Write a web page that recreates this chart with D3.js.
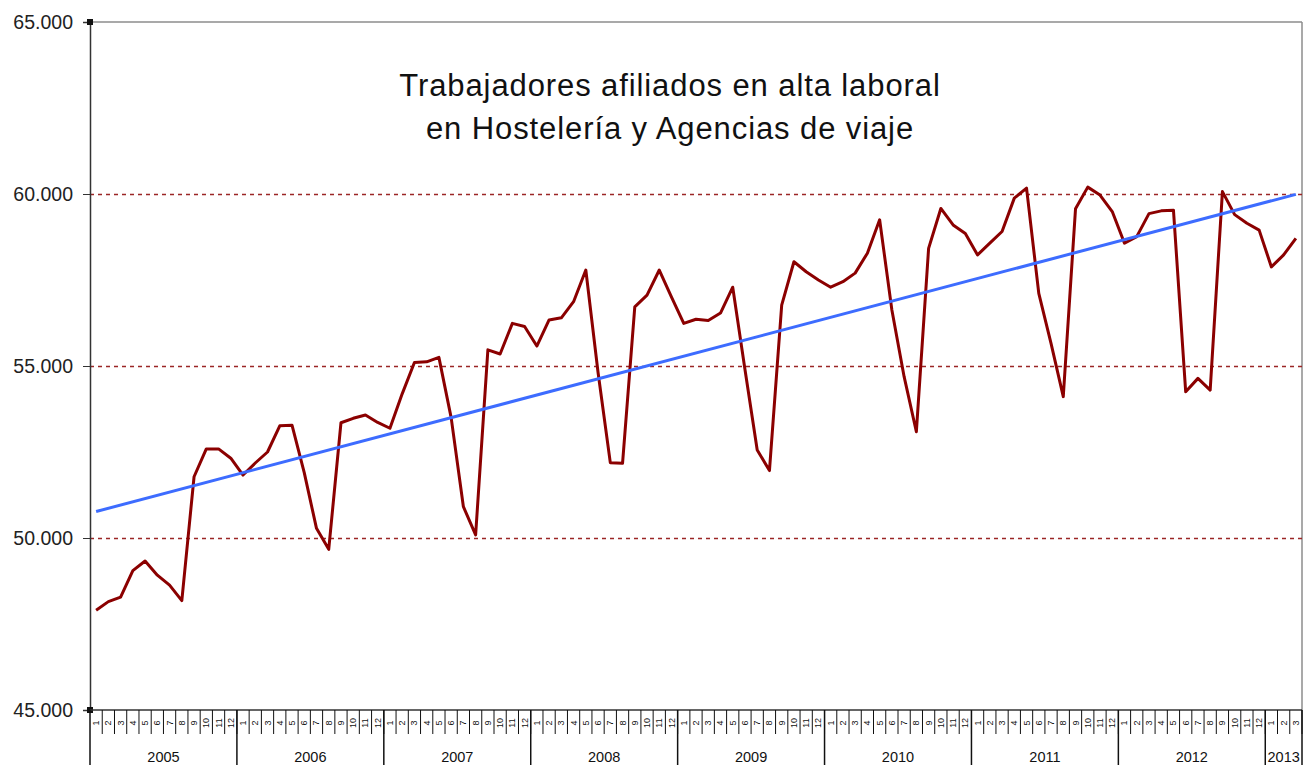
<!DOCTYPE html>
<html>
<head>
<meta charset="utf-8">
<script src="https://cdn.jsdelivr.net/npm/d3@7"></script>
<style>
  body { margin: 0; background: #fff; }
  svg { display: block; font-family: "Liberation Sans", Arial, sans-serif; }
</style>
</head>
<body>
<div id="chart"></div>
<script>
// years on the axis and how many months each one has
var years = ["2005", "2006", "2007", "2008", "2009", "2010", "2011", "2012", "2013"];
var monthsInYear = [12, 12, 12, 12, 12, 12, 12, 12, 3];
var monthLabels = ["1", "2", "3", "4", "5", "6", "7", "8", "9", "10", "11", "12"];

// afiliados, one value per month (Jan 2005 .. Mar 2013)
var afiliados = [
    47900, 48150, 48280, 49050, 49330, 48920, 48630, 48180, 51780, 52590, 52590, 52320,
    51830, 52180, 52500, 53260, 53280, 51900, 50280, 49670, 53350, 53480, 53575, 53360,
    53190, 54190, 55100, 55120, 55250, 53500, 50910, 50090, 55470, 55350, 56240, 56150,
    55580, 56340, 56400, 56870, 57790, 54810, 52190, 52170, 56720, 57060, 57790, 57000,
    56240, 56360, 56320, 56540, 57290, 54900, 52560, 51960, 56770, 58030, 57740, 57500,
    57290, 57450, 57700, 58280, 59250, 56630, 54690, 53090, 58420, 59580, 59100, 58850,
    58230, 58570, 58910, 59880, 60170, 57110, 55660, 54110, 59570, 60200, 59970, 59490,
    58570, 58760, 59430, 59510, 59530, 54250, 54640, 54300, 60070, 59400, 59150, 58950,
    57880, 58230, 58710
];

// linear trend line, value at first and last month
var trendEnds = [50770, 59990];

var yTicks = [45000, 50000, 55000, 60000, 65000];
var gridValues = [50000, 55000, 60000];
var titleLines = ["Trabajadores afiliados en alta laboral", "en Hostelería y Agencias de viaje"];

// build the month categories
var categories = [];
years.forEach(function (yr, i) {
    for (var m = 0; m < monthsInYear[i]; m++) {
        categories.push({ key: yr + "-" + (m + 1), year: yr, month: monthLabels[m] });
    }
});

var width = 1312, height = 765;
var margin = { top: 22, right: 10, bottom: 55, left: 90 };

var svg = d3.select("#chart").append("svg")
    .attr("width", width)
    .attr("height", height);

var x = d3.scaleBand()
    .domain(categories.map(function (d) { return d.key; }))
    .range([margin.left, width - margin.right])
    .padding(0);

var y = d3.scaleLinear()
    .domain([45000, 65000])
    .range([height - margin.bottom, margin.top]);

var esLocale = d3.formatLocale({ decimal: ",", thousands: ".", grouping: [3], currency: ["", " €"] });
var fmt = esLocale.format(",.0f");

var plotRight = width - margin.right;
var plotBottom = height - margin.bottom;

// plot border (top and right)
svg.append("line")
    .attr("x1", margin.left).attr("x2", plotRight)
    .attr("y1", margin.top).attr("y2", margin.top)
    .attr("stroke", "#8c8c8c").attr("stroke-width", 1.5);
svg.append("line")
    .attr("x1", plotRight).attr("x2", plotRight)
    .attr("y1", margin.top).attr("y2", plotBottom)
    .attr("stroke", "#8c8c8c").attr("stroke-width", 1.5);

// dashed gridlines
svg.selectAll(".grid")
    .data(gridValues)
    .enter().append("line")
    .attr("class", "grid")
    .attr("x1", margin.left).attr("x2", plotRight)
    .attr("y1", function (d) { return Math.round(y(d)) + 0.5; })
    .attr("y2", function (d) { return Math.round(y(d)) + 0.5; })
    .attr("stroke", "#9b2626")
    .attr("stroke-width", 1.6)
    .attr("stroke-dasharray", "4,4");

// y axis
var yAxis = svg.append("g")
    .attr("transform", "translate(" + margin.left + ",0)")
    .call(d3.axisLeft(y).tickValues(yTicks).tickFormat(fmt).tickSize(7).tickPadding(10));
yAxis.select(".domain").attr("stroke", "#333").attr("stroke-width", 1.5);
yAxis.selectAll(".tick line").attr("stroke", "#333");
yAxis.selectAll(".tick text")
    .attr("font-size", "19.5px")
    .attr("fill", "#222")
    .attr("font-family", "'Liberation Sans', Arial, sans-serif");

// little markers at the ends of the value axis
svg.selectAll(".endmark")
    .data([yTicks[0], yTicks[yTicks.length - 1]])
    .enter().append("rect")
    .attr("class", "endmark")
    .attr("x", margin.left - 3).attr("width", 6)
    .attr("y", function (d) { return y(d) - 3; }).attr("height", 6)
    .attr("fill", "#111");

// x axis line
svg.append("line")
    .attr("x1", margin.left).attr("x2", plotRight)
    .attr("y1", plotBottom).attr("y2", plotBottom)
    .attr("stroke", "#333").attr("stroke-width", 1.5);

// month separators
svg.selectAll(".mtick")
    .data(categories)
    .enter().append("line")
    .attr("class", "mtick")
    .attr("x1", function (d) { return x(d.key) + x.bandwidth(); })
    .attr("x2", function (d) { return x(d.key) + x.bandwidth(); })
    .attr("y1", plotBottom).attr("y2", plotBottom + 24)
    .attr("stroke", "#111").attr("stroke-width", 1);

// month labels, rotated
svg.selectAll(".mlabel")
    .data(categories)
    .enter().append("text")
    .attr("class", "mlabel")
    .attr("transform", function (d) {
        return "translate(" + (x(d.key) + x.bandwidth() / 2 + 3) + "," + (plotBottom + 13) + ") rotate(-90)";
    })
    .attr("text-anchor", "middle")
    .attr("font-size", "9px")
    .attr("fill", "#111")
    .text(function (d) { return d.month; });

// year separators and labels
var yearSpans = years.map(function (yr) {
    var ks = categories.filter(function (c) { return c.year === yr; });
    return { year: yr, x0: x(ks[0].key), x1: x(ks[ks.length - 1].key) + x.bandwidth() };
});
var yearEdges = [yearSpans[0].x0].concat(yearSpans.map(function (d) { return d.x1; }));
svg.selectAll(".ytick")
    .data(yearEdges)
    .enter().append("line")
    .attr("class", "ytick")
    .attr("x1", function (d) { return d; }).attr("x2", function (d) { return d; })
    .attr("y1", plotBottom).attr("y2", height)
    .attr("stroke", "#111").attr("stroke-width", 1.5);
svg.selectAll(".ylabel")
    .data(yearSpans)
    .enter().append("text")
    .attr("class", "ylabel")
    .attr("x", function (d) { return (d.x0 + d.x1) / 2; })
    .attr("y", plotBottom + 52)
    .attr("text-anchor", "middle")
    .attr("font-size", "14.5px")
    .attr("fill", "#111")
    .text(function (d) { return d.year; });

// data line
var line = d3.line()
    .x(function (d, i) { return x(categories[i].key) + x.bandwidth() / 2; })
    .y(function (d) { return y(d); });

svg.append("path")
    .datum(afiliados)
    .attr("fill", "none")
    .attr("stroke", "#8b0000")
    .attr("stroke-width", 3)
    .attr("stroke-linejoin", "round")
    .attr("d", line);

// trend line
var first = categories[0].key, last = categories[categories.length - 1].key;
svg.append("line")
    .attr("x1", x(first) + x.bandwidth() / 2)
    .attr("x2", x(last) + x.bandwidth() / 2)
    .attr("y1", y(trendEnds[0]))
    .attr("y2", y(trendEnds[1]))
    .attr("stroke", "#3d6cff")
    .attr("stroke-width", 3);

// title
svg.append("text")
    .attr("x", 670)
    .attr("y", 96)
    .attr("text-anchor", "middle")
    .attr("font-size", "31px")
    .attr("letter-spacing", "0.9px")
    .attr("fill", "#111")
    .selectAll("tspan")
    .data(titleLines)
    .enter().append("tspan")
    .attr("x", 670)
    .attr("dy", function (d, i) { return i === 0 ? 0 : 43; })
    .text(function (d) { return d; });
</script>
</body>
</html>
